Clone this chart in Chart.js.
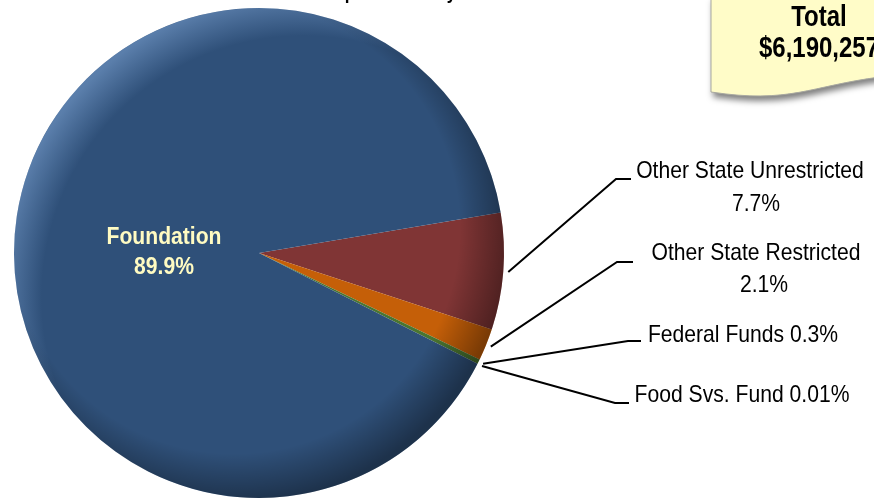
<!DOCTYPE html>
<html>
<head>
<meta charset="utf-8">
<script src="https://cdn.jsdelivr.net/npm/chart.js"></script>
<style>
  html, body { margin: 0; padding: 0; background: #fff; }
  canvas { display: block; }
</style>
</head>
<body>
<canvas id="grafico" width="874" height="500"></canvas>
<script>
// dados
const categorias = ['Other State Unrestricted', 'Other State Restricted', 'Federal Funds', 'Food Svs. Fund', 'Foundation'];
const percentuais = [7.7, 2.1, 0.3, 0.01, 89.9];
const rotulosPct = ['7.7%', '2.1%', '0.3%', '0.01%', '89.9%'];
const cores = ['#803535', '#c55f08', '#4a7530', '#6b4c9a', '#2f5079'];
const totalTexto = ['Total', '$6,190,257'];
const tituloTexto = 'Expenditures by Fund Source';

// posicao dos rotulos (layout)
const rotulosLayout = [
    { linhas: [[categorias[0], 750, 178], [rotulosPct[0], 756, 211]], cotovelo: [616, 179], fim: [631, 179] },
    { linhas: [[categorias[1], 756, 260], [rotulosPct[1], 764, 292]], cotovelo: [617, 262], fim: [633, 262] },
    { linhas: [[categorias[2] + ' ' + rotulosPct[2], 743, 342]], cotovelo: [628, 341], fim: [641, 341] },
    { linhas: [[categorias[3] + ' ' + rotulosPct[3], 742, 402]], cotovelo: [615, 403], fim: [629, 403] }
];

// texto "narrow": Liberation Sans comprimido na horizontal
function textoEstreito(ctx, texto, x, y, fonte, escala, cor) {
    ctx.save();
    ctx.translate(x, y);
    ctx.scale(escala, 1);
    ctx.font = fonte;
    ctx.fillStyle = cor;
    ctx.textAlign = 'center';
    ctx.textBaseline = 'alphabetic';
    ctx.fillText(texto, 0, 0);
    ctx.restore();
}

const pluginRotulos = {
    id: 'rotulos',
    afterDatasetsDraw(chart) {
        const ctx = chart.ctx;
        const meta = chart.getDatasetMeta(0);
        const a0 = meta.data[0];
        const cx = a0.x, cy = a0.y, r = a0.outerRadius;

        // sombreado 3D
        ctx.save();
        ctx.beginPath();
        ctx.arc(cx, cy, r, 0, Math.PI * 2);
        ctx.clip();
        let g = ctx.createRadialGradient(cx - 0.1 * r, cy - 0.1 * r, 0, cx - 0.1 * r, cy - 0.1 * r, 1.12 * r);
        g.addColorStop(0, 'rgba(0,0,0,0)');
        g.addColorStop(0.82, 'rgba(0,0,0,0)');
        g.addColorStop(1, 'rgba(0,0,0,0.38)');
        ctx.fillStyle = g;
        ctx.fillRect(cx - r, cy - r, 2 * r, 2 * r);
        g = ctx.createRadialGradient(cx + 0.18 * r, cy + 0.18 * r, 0, cx + 0.18 * r, cy + 0.18 * r, 1.24 * r);
        g.addColorStop(0, 'rgba(150,190,240,0)');
        g.addColorStop(0.86, 'rgba(150,190,240,0)');
        g.addColorStop(1, 'rgba(150,190,240,0.42)');
        ctx.fillStyle = g;
        ctx.fillRect(cx - r, cy - r, 2 * r, 2 * r);
        ctx.restore();

        // linhas de chamada
        ctx.save();
        ctx.strokeStyle = '#000';
        ctx.lineWidth = 2;
        rotulosLayout.forEach((lay, i) => {
            const arc = meta.data[i];
            const ang = (arc.startAngle + arc.endAngle) / 2;
            const sx = cx + Math.cos(ang) * (r + 5);
            const sy = cy + Math.sin(ang) * (r + 5);
            ctx.beginPath();
            ctx.moveTo(sx, sy);
            ctx.lineTo(lay.cotovelo[0], lay.cotovelo[1]);
            ctx.lineTo(lay.fim[0], lay.fim[1]);
            ctx.stroke();
            lay.linhas.forEach(l => textoEstreito(ctx, l[0], l[1], l[2], '24px "Liberation Sans", Arial, sans-serif', 0.88, '#000'));
        });
        ctx.restore();

        // rotulo interno Foundation
        textoEstreito(ctx, categorias[4], 164, 244, 'bold 24px "Liberation Sans", Arial, sans-serif', 0.88, '#fffbc2');
        textoEstreito(ctx, rotulosPct[4], 164, 274, 'bold 24px "Liberation Sans", Arial, sans-serif', 0.88, '#fffbc2');
    },
    afterDraw(chart) {
        const ctx = chart.ctx;
        // titulo (cortado no topo)
        ctx.save();
        ctx.translate(324, -1);
        ctx.scale(0.85, 1);
        ctx.font = 'bold 20px "Liberation Sans", Arial, sans-serif';
        ctx.fillStyle = '#000';
        ctx.textAlign = 'left';
        ctx.fillText(tituloTexto, 0, 0);
        ctx.restore();

        // nota amarela
        ctx.save();
        ctx.beginPath();
        ctx.moveTo(711, -4);
        ctx.lineTo(880, -4);
        ctx.lineTo(880, 77);
        ctx.bezierCurveTo(810, 86, 790, 104, 711, 92);
        ctx.closePath();
        ctx.shadowColor = 'rgba(0,0,0,0.5)';
        ctx.shadowBlur = 6;
        ctx.shadowOffsetX = 2;
        ctx.shadowOffsetY = 5;
        ctx.fillStyle = '#fffcc8';
        ctx.fill();
        ctx.shadowColor = 'rgba(0,0,0,0)';
        ctx.strokeStyle = '#a8a8a0';
        ctx.lineWidth = 1;
        ctx.stroke();
        ctx.restore();
        textoEstreito(ctx, totalTexto[0], 819, 26, 'bold 30px "Liberation Sans", Arial, sans-serif', 0.8, '#000');
        textoEstreito(ctx, totalTexto[1], 819, 57, 'bold 30px "Liberation Sans", Arial, sans-serif', 0.8, '#000');
    }
};

const canvas = document.getElementById('grafico');
const contexto = canvas.getContext('2d');

const grafico = new Chart(contexto, {
    type: 'pie',
    data: {
        labels: categorias,
        datasets: [{
            data: percentuais,
            backgroundColor: cores,
            borderWidth: 0
        }]
    },
    options: {
        responsive: false,
        animation: false,
        rotation: 80.5,
        layout: { padding: { left: 14, right: 370, top: 8, bottom: 2 } },
        plugins: {
            legend: { display: false },
            tooltip: { enabled: false },
            title: { display: false }
        }
    },
    plugins: [pluginRotulos]
});
</script>
</body>
</html>
